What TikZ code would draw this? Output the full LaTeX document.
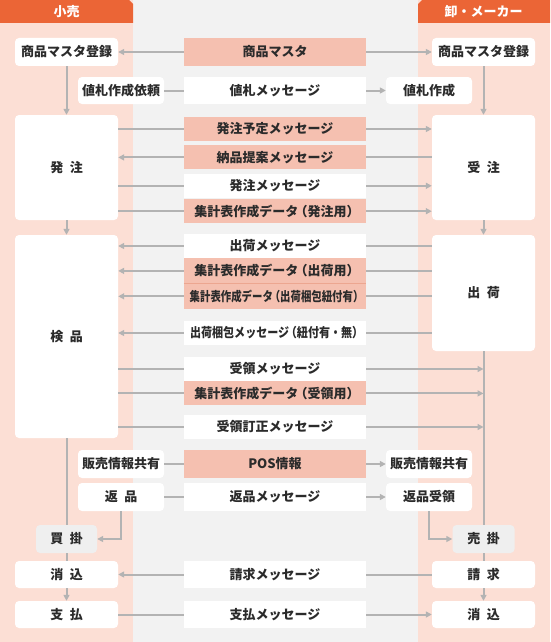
\documentclass[tikz,border=0pt]{standalone}
\usepackage{fontspec}
\usepackage{graphicx}
\setmainfont{Noto Sans CJK JP}
\usetikzlibrary{arrows.meta, positioning}
\definecolor{retailpink}{HTML}{FCDFD5}
\definecolor{midgray}{HTML}{F2F2F2}
\definecolor{headorange}{HTML}{EB6536}
\definecolor{msgpink}{HTML}{F5C0B0}
\definecolor{msgline}{HTML}{ECA690}
\definecolor{nodegray}{HTML}{EFEFEF}
\definecolor{linkgray}{HTML}{B3B3B3}
\definecolor{inkdark}{HTML}{2B2B2B}
\newcommand{\squeeze}[2]{\scalebox{#1}[1]{#2}}
\newcommand{\lpar}{\kern-0.3em（}
\newcommand{\rpar}{）\kern-0.3em}

\begin{document}
\begin{tikzpicture}[x=1pt, y=-1pt, boxstyle/.style = {rectangle, fill=white, rounded corners=4pt, inner sep=0pt, minimum width=103pt, minimum height=28pt, align=center}, sidestyle/.style = {boxstyle, minimum width=86pt}, graystyle/.style = {boxstyle, fill=nodegray, minimum width=62pt}, msgstyle/.style = {rectangle, fill=white, inner sep=0pt, minimum width=182pt, minimum height=24pt}, msgpinkstyle/.style = {msgstyle, fill=msgpink}, headstyle/.style = {text=white}, linkstyle/.style = {draw=linkgray, line width=2pt}, arrowstyle/.style = {linkstyle, -{Triangle[length=6pt, width=6pt]}}]
  \tikzstyle{every node}=[font=\fontsize{13}{15}\selectfont\bfseries, text=inkdark]
  \useasboundingbox (0,0) rectangle (550,642);

  % columns
  \fill[retailpink] (0,0) rectangle (133,642);
  \fill[midgray] (133,0) rectangle (418,642);
  \fill[retailpink] (418,0) rectangle (550,642);
  \fill[headorange] (0,0) -- (129,0) -- (133,4) -- (133,23) -- (0,23) -- cycle;
  \fill[headorange] (422,0) -- (550,0) -- (550,23) -- (418,23) -- (418,4) -- cycle;
  \node[headstyle] (retail) at (66.5,11.5) {小売};
  \node[headstyle] (maker) at (483.5,11.5) {卸・メーカー};

  % retail side
  \node[boxstyle] (lreg) at (66.5,52) {商品マスタ登録};
  \node[sidestyle, minimum height=27pt] (lnefuda) at (121,90.5) {値札作成依頼};
  \node[boxstyle, minimum height=105pt] (lhatchu) at (66.5,167.5) {発\hspace{0.5em}注};
  \node[boxstyle, minimum height=203pt] (lkenpin) at (66.5,336.5) {検\hspace{0.5em}品};
  \node[sidestyle] (lpos) at (121,464) {販売情報共有};
  \node[sidestyle] (lhenpin) at (121,497) {返\hspace{0.5em}品};
  \node[graystyle, minimum width=61pt] (kaikake) at (66.5,539) {買\hspace{0.5em}掛};
  \node[boxstyle, minimum height=27pt] (lkeshi) at (66.5,574.5) {消\hspace{0.5em}込};
  \node[boxstyle, minimum height=27pt] (shiharai) at (66.5,614.5) {支\hspace{0.5em}払};

  % maker side
  \node[boxstyle] (rreg) at (483.5,52) {商品マスタ登録};
  \node[sidestyle, minimum height=27pt] (rnefuda) at (429,90.5) {値札作成};
  \node[boxstyle, minimum height=105pt] (juchu) at (483.5,167.5) {受\hspace{0.5em}注};
  \node[boxstyle, minimum height=116pt] (shukka) at (483.5,293) {出\hspace{0.5em}荷};
  \node[sidestyle] (rpos) at (429,464) {販売情報共有};
  \node[sidestyle] (henpinjuryo) at (429,497) {返品受領};
  \node[graystyle] (urikake) at (483.5,539) {売\hspace{0.5em}掛};
  \node[boxstyle, minimum height=27pt] (seikyu) at (483.5,574.5) {請\hspace{0.5em}求};
  \node[boxstyle, minimum height=27pt] (rkeshi) at (483.5,614.5) {消\hspace{0.5em}込};

  % messages
  \node[msgpinkstyle, minimum height=28pt] (master) at (275,52) {商品マスタ};
  \node[msgstyle, minimum height=27pt] (nefudamsg) at (275,90.5) {値札メッセージ};
  \node[msgpinkstyle] (yotei) at (275,129) {発注予定メッセージ};
  \node[msgpinkstyle, below=4pt of yotei] (teian) {納品提案メッセージ};
  \node[msgstyle, below=4pt of teian] (hatchumsg) {発注メッセージ};
  \node[msgpinkstyle, below=1pt of hatchumsg] (shukeihatchu) {集計表作成データ\lpar 発注用\rpar};
  \node[msgstyle] (shukkamsg) at (275,246) {出荷メッセージ};
  \node[msgpinkstyle, minimum height=25pt, below=0pt of shukkamsg] (shukeishukka) {集計表作成データ\lpar 出荷用\rpar};
  \node[msgpinkstyle, minimum height=25pt, below=0pt of shukeishukka] (shukeikonpo) {\squeeze{0.8}{集計表作成データ\lpar 出荷梱包紐付有\rpar}};
  \node[msgstyle] (konpomsg) at (275,333) {\squeeze{0.85}{出荷梱包メッセージ\lpar 紐付有・無\rpar}};
  \node[msgstyle] (juryomsg) at (275,369) {受領メッセージ};
  \node[msgpinkstyle, below=0pt of juryomsg] (shukeijuryo) {集計表作成データ\lpar 受領用\rpar};
  \node[msgstyle] (teiseimsg) at (275,427) {受領訂正メッセージ};
  \node[msgpinkstyle, minimum height=28pt] (posinfo) at (275,464) {POS情報};
  \node[msgstyle, minimum height=28pt] (henpinmsg) at (275,497) {返品メッセージ};
  \node[msgstyle, minimum height=27pt] (seikyumsg) at (275,574.5) {請求メッセージ};
  \node[msgstyle, minimum height=27pt] (shiharaimsg) at (275,614.5) {支払メッセージ};
  \draw[msgline, line width=1pt] (shukeikonpo.north west) -- (shukeikonpo.north east);

  % arrows
  \draw[arrowstyle] (master.west) -- (lreg.east);
  \draw[arrowstyle] (master.east) -- (rreg.west);
  \draw[linkstyle] (lnefuda.east) -- (nefudamsg.west);
  \draw[arrowstyle] (nefudamsg.east) -- (rnefuda.west);
  \draw[linkstyle] (lhatchu.east |- yotei.west) -- (yotei.west);
  \draw[arrowstyle] (yotei.east) -- (yotei.east -| juchu.west);
  \draw[arrowstyle] (teian.west) -- (teian.west -| lhatchu.east);
  \draw[linkstyle] (teian.east) -- (teian.east -| juchu.west);
  \draw[linkstyle] (lhatchu.east |- hatchumsg.west) -- (hatchumsg.west);
  \draw[arrowstyle] (hatchumsg.east) -- (hatchumsg.east -| juchu.west);
  \draw[linkstyle] (lhatchu.east |- shukeihatchu.west) -- (shukeihatchu.west);
  \draw[arrowstyle] (shukeihatchu.east) -- (shukeihatchu.east -| juchu.west);
  \draw[arrowstyle] (shukkamsg.west) -- (shukkamsg.west -| lkenpin.east);
  \draw[linkstyle] (shukkamsg.east) -- (shukkamsg.east -| shukka.west);
  \draw[arrowstyle] (shukeishukka.west) -- (shukeishukka.west -| lkenpin.east);
  \draw[linkstyle] (shukeishukka.east) -- (shukeishukka.east -| shukka.west);
  \draw[arrowstyle] (shukeikonpo.west) -- (shukeikonpo.west -| lkenpin.east);
  \draw[linkstyle] (shukeikonpo.east) -- (shukeikonpo.east -| shukka.west);
  \draw[arrowstyle] (konpomsg.west) -- (konpomsg.west -| lkenpin.east);
  \draw[linkstyle] (konpomsg.east) -- (konpomsg.east -| shukka.west);
  \draw[linkstyle] (lkenpin.east |- juryomsg.west) -- (juryomsg.west);
  \draw[arrowstyle] (juryomsg.east) -- (juryomsg.east -| shukka.south);
  \draw[linkstyle] (lkenpin.east |- shukeijuryo.west) -- (shukeijuryo.west);
  \draw[arrowstyle] (shukeijuryo.east) -- (shukeijuryo.east -| shukka.south);
  \draw[linkstyle] (lkenpin.east |- teiseimsg.west) -- (teiseimsg.west);
  \draw[arrowstyle] (teiseimsg.east) -- (teiseimsg.east -| shukka.south);
  \draw[linkstyle] (lpos.east) -- (posinfo.west);
  \draw[arrowstyle] (posinfo.east) -- (rpos.west);
  \draw[linkstyle] (lhenpin.east) -- (henpinmsg.west);
  \draw[arrowstyle] (henpinmsg.east) -- (henpinjuryo.west);
  \draw[arrowstyle] (seikyumsg.west) -- (lkeshi.east);
  \draw[linkstyle] (seikyumsg.east) -- (seikyu.west);
  \draw[linkstyle] (shiharai.east) -- (shiharaimsg.west);
  \draw[arrowstyle] (shiharaimsg.east) -- (rkeshi.west);

  % flow
  \draw[arrowstyle] (lreg.south) -- (lhatchu.north);
  \draw[arrowstyle] (lhatchu.south) -- (lkenpin.north);
  \draw[linkstyle] (lkenpin.south) -- (kaikake.north);
  \draw[arrowstyle] (lhenpin.south) |- (kaikake.east);
  \draw[linkstyle] (kaikake.south) -- (lkeshi.north);
  \draw[arrowstyle] (lkeshi.south) -- (shiharai.north);
  \draw[arrowstyle] (rreg.south) -- (juchu.north);
  \draw[arrowstyle] (juchu.south) -- (shukka.north);
  \draw[linkstyle] (shukka.south) -- (urikake.north);
  \draw[arrowstyle] (henpinjuryo.south) |- (urikake.west);
  \draw[linkstyle] (urikake.south) -- (seikyu.north);
  \draw[arrowstyle] (seikyu.south) -- (rkeshi.north);

\end{tikzpicture}
\end{document}
